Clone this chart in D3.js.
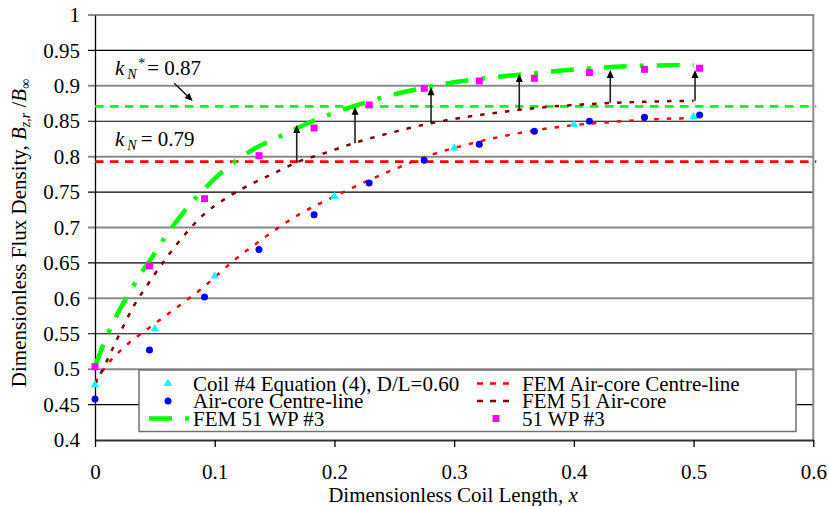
<!DOCTYPE html>
<html><head><meta charset="utf-8">
<script src="https://cdn.jsdelivr.net/npm/d3@7"></script>
<style>
body{margin:0;background:#fff;}
svg{display:block;font-family:"Liberation Serif","Times New Roman",serif;}
</style></head>
<body><svg id="c" width="828" height="506" font-family="Liberation Serif, Times New Roman, serif"></svg>
<script>
// ---------- data ----------
const xTicks = [0, 0.1, 0.2, 0.3, 0.4, 0.5, 0.6];
const xTickLabels = ["0", "0.1", "0.2", "0.3", "0.4", "0.5", "0.6"];
const yTicks = [0.4, 0.45, 0.5, 0.55, 0.6, 0.65, 0.7, 0.75, 0.8, 0.85, 0.9, 0.95, 1];
const yTickLabels = ["0.4", "0.45", "0.5", "0.55", "0.6", "0.65", "0.7", "0.75", "0.8", "0.85", "0.9", "0.95", "1"];

// Coil #4 Equation (4), D/L=0.60
const eqX = [0, 0.05, 0.1, 0.2, 0.3, 0.4, 0.5];
const eqY = [0.478, 0.557, 0.6315, 0.744, 0.812, 0.8457, 0.8565];

// measured points (Air-core Centre-line, 51 WP #3)
const measX = [0, 0.0455, 0.0915, 0.137, 0.183, 0.229, 0.275, 0.321, 0.367, 0.413, 0.459, 0.505];
const airY = [0.458, 0.527, 0.602, 0.669, 0.718, 0.763, 0.795, 0.8175, 0.836, 0.85, 0.8556, 0.8588];
const wpY = [0.5035, 0.6457, 0.7407, 0.8014, 0.8405, 0.873, 0.8965, 0.9068, 0.9107, 0.9186, 0.9233, 0.9248];

// FEM Air-core Centre-line
const femAirX = [0, 0.01, 0.025, 0.045, 0.065, 0.09, 0.115, 0.14, 0.17, 0.2, 0.24, 0.28, 0.32, 0.36, 0.4, 0.44, 0.47, 0.5];
const femAirY = [0.481, 0.506, 0.532, 0.558, 0.583, 0.615, 0.652, 0.684, 0.718, 0.744, 0.775, 0.802, 0.821, 0.835, 0.8445, 0.85, 0.853, 0.8545];

// FEM 51 Air-core
const fem51AirX = [0, 0.01, 0.02, 0.032, 0.045, 0.06, 0.075, 0.09, 0.11, 0.13, 0.15, 0.17, 0.19, 0.22, 0.25, 0.28, 0.31, 0.34, 0.37, 0.41, 0.45, 0.5];
const fem51AirY = [0.478, 0.512, 0.548, 0.588, 0.622, 0.658, 0.69, 0.717, 0.742, 0.761, 0.777, 0.793, 0.804, 0.821, 0.835, 0.847, 0.856, 0.863, 0.869, 0.874, 0.877, 0.879];

// FEM 51 WP #3
const fem51WpX = [0, 0.01, 0.02, 0.03, 0.04, 0.05, 0.06, 0.07, 0.08, 0.09, 0.1, 0.11, 0.12, 0.135, 0.15, 0.165, 0.18, 0.2, 0.225, 0.25, 0.275, 0.3, 0.35, 0.4, 0.45, 0.5];
const fem51WpY = [0.504, 0.547, 0.582, 0.612, 0.639, 0.664, 0.69, 0.713, 0.734, 0.752, 0.769, 0.784, 0.797, 0.813, 0.825, 0.837, 0.849, 0.862, 0.876, 0.888, 0.897, 0.905, 0.915, 0.923, 0.928, 0.9295];

// reference levels
const kNStar = 0.871;
const kN = 0.793;

// arrows (x, from y, to y)
const arrowX = [0.1685, 0.2172, 0.2807, 0.3544, 0.4304, 0.5012];
const arrowFrom = [0.7925, 0.8189, 0.8471, 0.8659, 0.8762, 0.879];
const arrowTo = [0.8447, 0.8706, 0.898, 0.9167, 0.9224, 0.9224];

const legendLabels = ["Coil #4 Equation (4), D/L=0.60", "Air-core Centre-line", "FEM 51 WP #3",
                      "FEM Air-core Centre-line", "FEM 51 Air-core", "51 WP #3"];

// ---------- drawing ----------
const FONT = "Liberation Serif, Times New Roman, serif";
const svg = d3.select("#c");
svg.append("rect").attr("width", 828).attr("height", 506).attr("fill", "#fff");

const x = d3.scaleLinear().domain([0, 0.6]).range([95, 813.3]);
const y = d3.scaleLinear().domain([0.4, 1]).range([440, 15]);
const FS = 21;

// gridlines
svg.append("g").selectAll("line").data(yTicks.slice(1)).join("line")
  .attr("x1", x(0) - 7).attr("x2", x(0.6))
  .attr("y1", d => y(d)).attr("y2", d => y(d))
  .attr("stroke", (d, i) => (i % 2 === 1) ? "#8a8a8a" : "#000")
  .attr("stroke-width", (d, i) => (i % 2 === 1) ? 2 : 1.2);

// right border
svg.append("line").attr("x1", x(0.6)).attr("x2", x(0.6)).attr("y1", y(1) - 1).attr("y2", y(0.4))
  .attr("stroke", "#8a8a8a").attr("stroke-width", 2);

// axes
const yAxis = d3.axisLeft(y).tickValues(yTicks).tickSize(7).tickSizeOuter(0).tickPadding(8)
  .tickFormat((d, i) => yTickLabels[i]);
const gy = svg.append("g").attr("transform", `translate(${x(0)},0)`).call(yAxis).attr("font-family", FONT);
gy.selectAll("text").attr("font-size", FS).attr("font-family", FONT).attr("fill", "#000");
gy.selectAll("line").attr("stroke", "none");
gy.select(".domain").attr("stroke", "#000").attr("stroke-width", 1.3);

const xAxis = d3.axisBottom(x).tickValues(xTicks).tickSize(7).tickSizeOuter(0).tickPadding(17)
  .tickFormat((d, i) => xTickLabels[i]);
const gx = svg.append("g").attr("transform", `translate(0,${y(0.4)})`).call(xAxis).attr("font-family", FONT);
gx.selectAll("text").attr("font-size", FS).attr("font-family", FONT).attr("fill", "#000");
gx.selectAll("line").attr("stroke", "#000").attr("stroke-width", 1.3);
gx.select(".domain").attr("stroke", "#333").attr("stroke-width", 2);

// horizontal reference lines
const hLines = [{v: kNStar, c: "#00ff00"}, {v: kN, c: "#ff0000"}];
svg.append("g").selectAll("line").data(hLines).join("line")
  .attr("x1", x(0)).attr("x2", x(0.6) + 3)
  .attr("y1", d => y(d.v)).attr("y2", d => y(d.v))
  .attr("stroke", d => d.c).attr("stroke-width", 2.6).attr("stroke-dasharray", "8.5,6.5");

// curves
const line = d3.line().x(d => x(d[0])).y(d => y(d[1])).curve(d3.curveMonotoneX);
const zip = (a, b) => a.map((v, i) => [v, b[i]]);
svg.append("path").datum(zip(femAirX, femAirY)).attr("d", line)
  .attr("fill", "none").attr("stroke", "#ff0000").attr("stroke-width", 2.5).attr("stroke-dasharray", "4.5,8");
svg.append("path").datum(zip(fem51AirX, fem51AirY)).attr("d", line)
  .attr("fill", "none").attr("stroke", "#800000").attr("stroke-width", 2.5).attr("stroke-dasharray", "4.5,8");
svg.append("path").datum(zip(fem51WpX, fem51WpY)).attr("d", line)
  .attr("fill", "none").attr("stroke", "#00ff00").attr("stroke-width", 4.5).attr("stroke-dasharray", "23,13,4,13");

// arrows
const ag = svg.append("g");
arrowX.forEach((ax, i) => {
  const px = x(ax), y0 = y(arrowFrom[i]), y1 = y(arrowTo[i]);
  ag.append("line").attr("x1", px).attr("x2", px).attr("y1", y0).attr("y2", y1 + 6)
    .attr("stroke", "#222").attr("stroke-width", 1.6);
  ag.append("path").attr("d", `M${px},${y1} L${px - 3.5},${y1 + 8} L${px + 3.5},${y1 + 8} Z`).attr("fill", "#000");
});

// markers
const tri = d3.symbol().type(d3.symbolTriangle).size(30);
svg.append("g").selectAll("path").data(zip(eqX, eqY)).join("path")
  .attr("d", tri).attr("transform", d => `translate(${x(d[0])},${y(d[1])})`).attr("fill", "#00ffff");
svg.append("g").selectAll("circle").data(zip(measX, airY)).join("circle")
  .attr("cx", d => x(d[0])).attr("cy", d => y(d[1])).attr("r", 3.5).attr("fill", "#0000ff");
svg.append("g").selectAll("rect").data(zip(measX, wpY)).join("rect")
  .attr("x", d => x(d[0]) - 3.5).attr("y", d => y(d[1]) - 3.5).attr("width", 7).attr("height", 7).attr("fill", "#ff00ff");

// annotations
const ann = svg.append("g").attr("font-size", FS).attr("fill", "#000").attr("font-family", FONT);
const t1 = ann.append("text").attr("x", x(0.0167)).attr("y", y(0.9153));
t1.append("tspan").attr("font-style", "italic").text("k");
t1.append("tspan").attr("font-style", "italic").attr("font-size", 14).attr("dx", 3).attr("dy", 4).text("N");
t1.append("tspan").attr("font-size", 14).attr("dx", 1.5).attr("dy", -11).text("*");
t1.append("tspan").attr("dx", 2).attr("dy", 7).text("= 0.87");
const t2 = ann.append("text").attr("x", x(0.0167)).attr("y", y(0.8155));
t2.append("tspan").attr("font-style", "italic").text("k");
t2.append("tspan").attr("font-style", "italic").attr("font-size", 14).attr("dx", 3).attr("dy", 4).text("N");
t2.append("tspan").attr("dx", 4).attr("dy", -4).text("= 0.79");
// pointer arrow
{
  const x0 = x(0.0662), y0 = y(0.9036), x1 = x(0.0816), y1 = y(0.8786);
  const ang = Math.atan2(y1 - y0, x1 - x0);
  const bx = x1 - 8 * Math.cos(ang), by = y1 - 8 * Math.sin(ang);
  ann.append("line").attr("x1", x0).attr("y1", y0).attr("x2", bx).attr("y2", by).attr("stroke", "#000").attr("stroke-width", 1.3);
  const nx = -Math.sin(ang) * 3.5, ny = Math.cos(ang) * 3.5;
  ann.append("path").attr("d", `M${x1},${y1} L${bx + nx},${by + ny} L${bx - nx},${by - ny} Z`).attr("fill", "#000");
}

// axis titles
const xt = svg.append("text").attr("x", 453).attr("y", 501.5).attr("text-anchor", "middle").attr("font-size", FS).attr("font-family", FONT);
xt.append("tspan").text("Dimensionless Coil Length, ");
xt.append("tspan").attr("font-style", "italic").text("x");

const yt = svg.append("text").attr("transform", "translate(25.5,233) rotate(-90)").attr("text-anchor", "middle").attr("font-size", FS).attr("font-family", FONT);
yt.append("tspan").text("Dimensionless Flux Density, ");
yt.append("tspan").attr("font-style", "italic").text("B");
yt.append("tspan").attr("font-style", "italic").attr("font-size", 14).attr("dy", 4).text("z,r");
yt.append("tspan").attr("dy", -4).text(" /");
yt.append("tspan").attr("font-style", "italic").text("B");
yt.append("tspan").attr("font-size", 14).attr("dy", 4).text("\u221E");

// legend
const lg = svg.append("g").attr("font-family", FONT);
lg.append("rect").attr("x", 139).attr("y", 370).attr("width", 657).attr("height", 61.5)
  .attr("fill", "#fff").attr("stroke", "#707070").attr("stroke-width", 1.5);
const rowY = [383.5, 401, 418.5];
const colTextX = [193, 522];
legendLabels.forEach((lab, i) => {
  const col = Math.floor(i / 3), row = i % 3;
  lg.append("text").attr("x", colTextX[col]).attr("y", rowY[row] + 7).attr("font-size", FS).text(lab);
});
lg.append("path").attr("d", tri).attr("transform", `translate(168,${rowY[0]})`).attr("fill", "#00ffff");
lg.append("circle").attr("cx", 168).attr("cy", rowY[1]).attr("r", 3.5).attr("fill", "#0000ff");
lg.append("line").attr("x1", 149).attr("x2", 189).attr("y1", rowY[2]).attr("y2", rowY[2])
  .attr("stroke", "#00ff00").attr("stroke-width", 4.5).attr("stroke-dasharray", "23,13,4,13");
lg.append("line").attr("x1", 477).attr("x2", 510).attr("y1", rowY[0]).attr("y2", rowY[0])
  .attr("stroke", "#ff0000").attr("stroke-width", 2.5).attr("stroke-dasharray", "6,7");
lg.append("line").attr("x1", 477).attr("x2", 510).attr("y1", rowY[1]).attr("y2", rowY[1])
  .attr("stroke", "#800000").attr("stroke-width", 2.5).attr("stroke-dasharray", "6,7");
lg.append("rect").attr("x", 496 - 3.5).attr("y", rowY[2] - 3.5).attr("width", 7).attr("height", 7).attr("fill", "#ff00ff");
</script></body></html>
